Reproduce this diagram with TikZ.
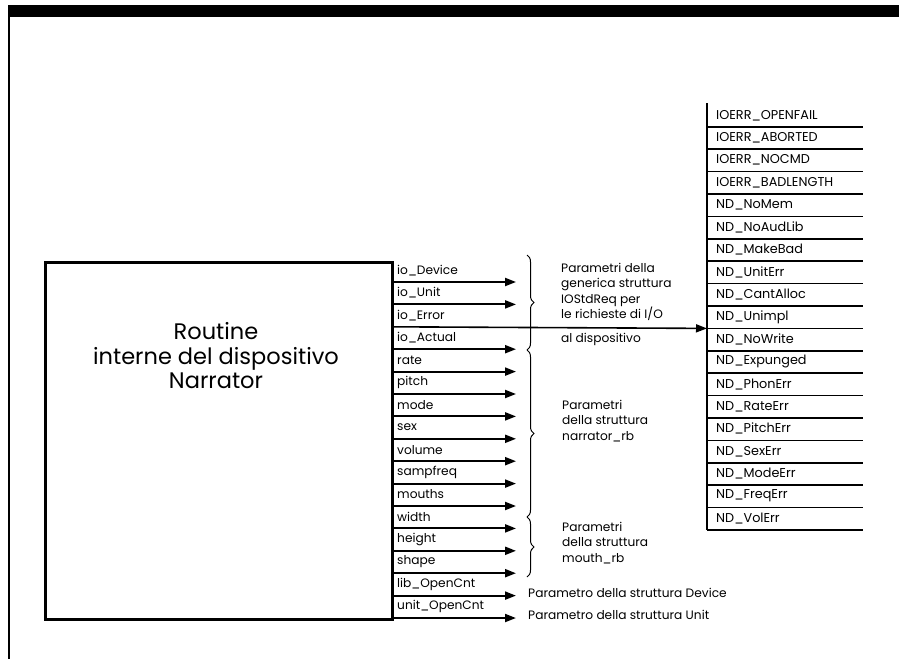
\documentclass[tikz,border=0pt]{standalone}
\usepackage{fontspec}
\setmainfont{Poppins}
\usetikzlibrary{arrows.meta,decorations.pathreplacing}
\begin{document}
\begin{tikzpicture}[x=1pt,y=-1pt,
  lbl/.style={anchor=west,inner sep=0pt,font=\fontsize{12.2}{14}\selectfont},
  tlbl/.style={anchor=west,inner sep=0pt,font=\fontsize{12.8}{14}\selectfont},
  arr/.style={line width=2pt,-{Triangle[length=11pt,width=8pt]}},
  tline/.style={line width=1.5pt},
  brc/.style={line width=1pt,decorate,decoration={brace,amplitude=7pt}},
  note/.style={anchor=north west,inner sep=0pt,align=left,font=\fontsize{12.2}{15.5}\selectfont}]
\useasboundingbox (0,0) rectangle (899,659);
% frame
\fill (8,5) rectangle (899,17);
\draw[line width=1.5pt] (9,17) -- (9,659);
% main box
\node[draw,line width=2.5pt,minimum width=347pt,minimum height=357pt,anchor=north west,inner sep=0pt] (box) at (44,261) {};
\node[align=center,font=\fontsize{22.5}{24.5}\selectfont] (title) at (216,356) {Routine\\interne del dispositivo\\Narrator};
% parameter rows
\foreach \t [count=\i from 0] in {io\_Device,io\_Unit,io\_Error,io\_Actual,rate,pitch,mode,sex,volume,sampfreq,mouths,width,height,shape,lib\_OpenCnt,unit\_OpenCnt}{
  \pgfmathsetmacro\yy{282+\i*22.4}
  \node[lbl] (r\i) at (397,\yy-11.5) {\t};
  \coordinate (s\i) at (391,\yy);
  \coordinate (e\i) at (516,\yy);
  \ifnum\i=2 \else \draw[arr] (s\i) -- (e\i); \fi
}
% error table
\foreach \t [count=\k from 0] in {IOERR\_OPENFAIL,IOERR\_ABORTED,IOERR\_NOCMD,IOERR\_BADLENGTH,ND\_NoMem,ND\_NoAudLib,ND\_MakeBad,ND\_UnitErr,ND\_CantAlloc,ND\_Unimpl,ND\_NoWrite,ND\_Expunged,ND\_PhonErr,ND\_RateErr,ND\_PitchErr,ND\_SexErr,ND\_ModeErr,ND\_FreqErr,ND\_VolErr}{
  \pgfmathsetmacro\yy{126.8+\k*22.4}
  \node[tlbl] (q\k) at (716,\yy-11.5) {\t};
  \coordinate (ta\k) at (707,\yy);
  \coordinate (tb\k) at (863,\yy);
  \draw[tline] (ta\k) -- (tb\k);
}
\coordinate (ttop) at (707,103);
\draw[line width=1.8pt] (ttop) -- (ta18);
% io_Error long arrow
\draw[line width=1.6pt,-{Triangle[length=11pt,width=8pt]}] (s2) -- (ta9);
% braces
\draw[brc] (527,255) -- (527,350);
\draw[brc] (527,350) -- (527,517);
\draw[brc] (527,517) -- (527,577);
% notes
\node[note] (n1) at (561,263) {Parametri della\\generica struttura\\IOStdReq per\\le richieste di I/O};
\node[lbl] (n1b) at (561,339) {al dispositivo};
\node[note] (n2) at (562,400) {Parametri\\della struttura\\narrator\_rb};
\node[note] (n3) at (562,522) {Parametri\\della struttura\\mouth\_rb};
\node[lbl] (n4) at (528,593) {Parametro della struttura Device};
\node[lbl] (n5) at (528,615) {Parametro della struttura Unit};
\end{tikzpicture}
\end{document}
